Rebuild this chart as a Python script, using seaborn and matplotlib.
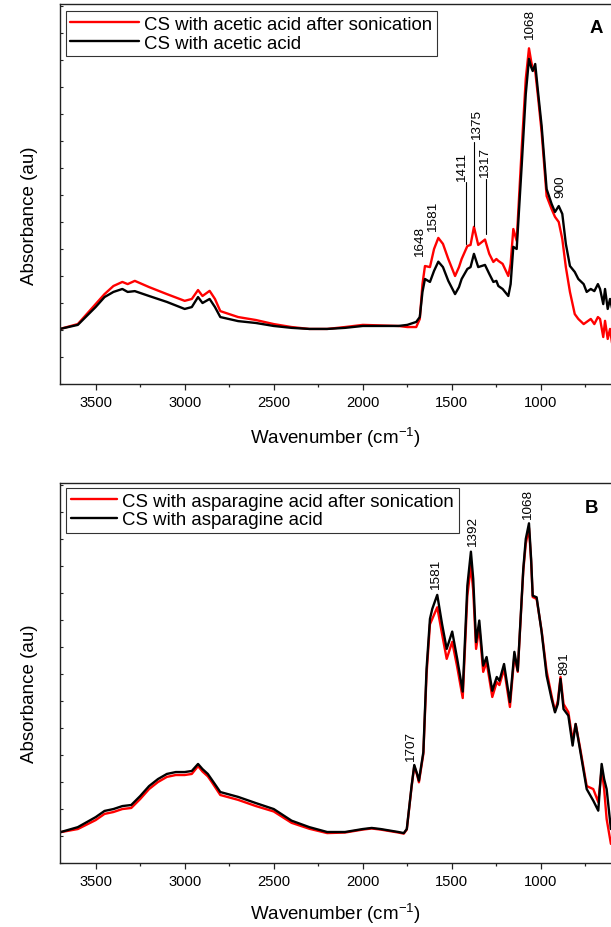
import numpy as np
import matplotlib
matplotlib.use('Agg')
import matplotlib.pyplot as plt
import seaborn as sns
from matplotlib.lines import Line2D
from matplotlib.legend_handler import HandlerLine2D
from matplotlib.ticker import MultipleLocator, FixedLocator

# Panel A: CS with acetic acid (wavenumber, absorbance in a.u.)
wn_a = [3700, 3600, 3500, 3450, 3400, 3350, 3320, 3280, 3200, 3100,
        3000, 2960, 2925, 2900, 2860, 2830, 2800, 2700, 2600, 2500,
        2400, 2300, 2200, 2100, 2000, 1900, 1800, 1750, 1700, 1680,
        1665, 1651, 1623, 1600, 1576, 1550, 1520, 1482, 1460, 1445,
        1413, 1395, 1376, 1352, 1314, 1290, 1267, 1250, 1239, 1215,
        1183, 1170, 1155, 1136, 1108, 1085, 1067, 1055, 1046, 1032,
        1015, 996, 968, 940, 921, 900, 880, 860, 837, 810,
        790, 760, 743, 720, 700, 680, 668, 650, 640, 625,
        612, 600]
a_sonic = [0.205, 0.223, 0.297, 0.334, 0.364, 0.379, 0.371, 0.383, 0.360, 0.334,
           0.309, 0.316, 0.349, 0.327, 0.346, 0.316, 0.271, 0.249, 0.238, 0.223,
           0.212, 0.205, 0.205, 0.212, 0.220, 0.218, 0.216, 0.212, 0.212, 0.242,
           0.371, 0.438, 0.434, 0.501, 0.542, 0.520, 0.464, 0.401, 0.434, 0.464,
           0.512, 0.516, 0.583, 0.516, 0.536, 0.483, 0.453, 0.464, 0.457, 0.446,
           0.401, 0.446, 0.575, 0.531, 0.871, 1.131, 1.244, 1.197, 1.168, 1.160,
           1.057, 0.934, 0.697, 0.649, 0.620, 0.601, 0.538, 0.434, 0.342, 0.260,
           0.242, 0.223, 0.231, 0.242, 0.223, 0.249, 0.242, 0.175, 0.235, 0.168,
           0.205, 0.149]
a_plain = [0.205, 0.220, 0.286, 0.323, 0.342, 0.353, 0.342, 0.345, 0.327, 0.305,
           0.279, 0.286, 0.323, 0.301, 0.316, 0.286, 0.249, 0.234, 0.227, 0.216,
           0.209, 0.205, 0.205, 0.209, 0.216, 0.216, 0.216, 0.220, 0.231, 0.249,
           0.342, 0.390, 0.379, 0.420, 0.454, 0.434, 0.383, 0.334, 0.360, 0.390,
           0.427, 0.434, 0.483, 0.434, 0.442, 0.409, 0.379, 0.383, 0.364, 0.353,
           0.327, 0.371, 0.509, 0.501, 0.809, 1.075, 1.205, 1.175, 1.160, 1.186,
           1.075, 0.957, 0.723, 0.668, 0.638, 0.660, 0.631, 0.520, 0.438, 0.416,
           0.390, 0.371, 0.342, 0.353, 0.345, 0.371, 0.353, 0.297, 0.353, 0.279,
           0.316, 0.279]

# Panel B: CS with asparagine acid
wn_b = [3700, 3600, 3500, 3450, 3400, 3350, 3300, 3250, 3200, 3150,
        3100, 3050, 3000, 2960, 2925, 2900, 2870, 2850, 2800, 2700,
        2600, 2500, 2400, 2300, 2200, 2100, 2000, 1950, 1900, 1800,
        1770, 1753, 1726, 1711, 1695, 1685, 1660, 1642, 1623, 1610,
        1582, 1555, 1529, 1498, 1470, 1439, 1413, 1393, 1380, 1364,
        1346, 1324, 1305, 1273, 1248, 1233, 1207, 1174, 1149, 1130,
        1099, 1085, 1067, 1055, 1046, 1024, 996, 968, 940, 921,
        905, 890, 873, 846, 822, 805, 781, 743, 706, 678,
        659, 645, 631, 607]
b_sonic = [0.115, 0.127, 0.160, 0.183, 0.190, 0.201, 0.205, 0.238, 0.275, 0.301,
           0.320, 0.327, 0.327, 0.331, 0.360, 0.340, 0.322, 0.303, 0.253, 0.235,
           0.212, 0.192, 0.150, 0.128, 0.112, 0.114, 0.125, 0.129, 0.125, 0.114,
           0.110, 0.125, 0.283, 0.360, 0.327, 0.300, 0.405, 0.700, 0.885, 0.905,
           0.948, 0.849, 0.757, 0.820, 0.727, 0.612, 0.991, 1.102, 1.009, 0.794,
           0.875, 0.709, 0.746, 0.616, 0.671, 0.660, 0.720, 0.579, 0.769, 0.709,
           1.083, 1.183, 1.242, 1.119, 0.986, 0.979, 0.861, 0.712, 0.620, 0.564,
           0.601, 0.690, 0.590, 0.560, 0.454, 0.516, 0.431, 0.286, 0.275, 0.227,
           0.349, 0.275, 0.164, 0.072]
b_plain = [0.115, 0.134, 0.171, 0.194, 0.201, 0.212, 0.216, 0.249, 0.286, 0.312,
           0.331, 0.338, 0.338, 0.342, 0.368, 0.349, 0.331, 0.312, 0.264, 0.246,
           0.223, 0.201, 0.158, 0.134, 0.116, 0.116, 0.127, 0.131, 0.127, 0.116,
           0.112, 0.127, 0.287, 0.364, 0.331, 0.306, 0.412, 0.720, 0.905, 0.942,
           0.994, 0.886, 0.794, 0.858, 0.757, 0.636, 1.028, 1.154, 1.053, 0.819,
           0.899, 0.732, 0.764, 0.639, 0.690, 0.676, 0.738, 0.597, 0.783, 0.713,
           1.090, 1.201, 1.259, 1.127, 0.991, 0.985, 0.857, 0.695, 0.609, 0.559,
           0.590, 0.683, 0.571, 0.547, 0.436, 0.516, 0.423, 0.275, 0.232, 0.195,
           0.368, 0.312, 0.275, 0.127]

labels_a = ['CS with acetic acid after sonication', 'CS with acetic acid']
labels_b = ['CS with asparagine acid after sonication', 'CS with asparagine acid']
xticks = [3500, 3000, 2500, 2000, 1500, 1000]

# peak labels: (text, wavenumber, y of text bottom)
peaks_a = [('1068', 1061, 1.279), ('1648', 1679, 0.475), ('1581', 1604, 0.568),
           ('1411', 1445, 0.753), ('1375', 1361, 0.908), ('1317', 1314, 0.768),
           ('900', 893, 0.694)]
# leader lines: (wavenumber, y0, y1)
leaders_a = [(1421, 0.520, 0.750), (1374, 0.586, 0.897), (1310, 0.557, 0.760)]
peaks_b = [('1068', 1071, 1.275), ('1392', 1383, 1.176), ('1581', 1589, 1.016),
           ('1707', 1731, 0.380), ('891', 869, 0.701)]

sns.set_style('ticks')
plt.rcParams['font.family'] = ['Liberation Sans', 'DejaVu Sans']
plt.rcParams['mathtext.fontset'] = 'custom'
plt.rcParams['mathtext.rm'] = 'Liberation Sans'
plt.rcParams['mathtext.default'] = 'regular'
plt.rcParams['text.color'] = 'black'
plt.rcParams['axes.labelcolor'] = 'black'
plt.rcParams['xtick.labelcolor'] = 'black'


class TailLine(HandlerLine2D):
    """legend line drawn only on the right part of the handle box"""
    def __init__(self, frac, **kw):
        super().__init__(**kw)
        self.frac = frac

    def create_artists(self, legend, orig_handle, xdescent, ydescent, width,
                       height, fontsize, trans):
        arts = super().create_artists(legend, orig_handle, xdescent, ydescent,
                                      width, height, fontsize, trans)
        for a in arts:
            x = np.asarray(a.get_xdata(), float)
            if x.size == 2:
                a.set_xdata([x[1] - self.frac * (x[1] - x[0]), x[1]])
        return arts


fig = plt.figure(figsize=(6.11, 9.28), dpi=100)


def panel(rect, wn, y_son, y_pl, labels, peaks, letter, leg_anchor, handlelen, frac, leaders=()):
    ax = fig.add_axes(rect)
    sns.lineplot(x=wn, y=y_son, color='#ff0000', lw=1.7, label=labels[0], ax=ax)
    sns.lineplot(x=wn, y=y_pl, color='black', lw=1.7, label=labels[1], ax=ax)
    ax.set_xlim(3700, 400)
    ax.set_ylim(0, 1.407)
    ax.xaxis.set_major_locator(FixedLocator(xticks))
    ax.xaxis.set_minor_locator(MultipleLocator(250))
    ax.yaxis.set_major_locator(MultipleLocator(0.1))
    ax.set_yticklabels([])
    ax.tick_params(axis='x', which='major', direction='out', length=4.3, width=0.9,
                   labelsize=10.6, pad=3.5, color='#222222')
    ax.tick_params(axis='x', which='minor', direction='out', length=2.4, width=0.9,
                   color='#222222')
    ax.tick_params(axis='y', which='major', direction='in', length=1.8, width=0.8,
                   color='#222222')
    for s in ax.spines.values():
        s.set_linewidth(1.0)
        s.set_color('#222222')
    ax.set_xlabel('Wavenumber (cm$^{-1}$)', fontsize=13.5)
    ax.set_ylabel('Absorbance (au)', fontsize=13.5)
    for txt, x, y in peaks:
        ax.text(x, y, txt, rotation=90, ha='center', va='bottom', fontsize=9.7)
    for x, y0, y1 in leaders:
        ax.plot([x, x], [y0, y1], color='black', lw=0.8)
    ax.text(letter[1], letter[2], letter[0], transform=ax.transAxes, fontsize=13.4,
            fontweight='bold', ha='center', va='center')
    h, l = ax.get_legend_handles_labels()
    leg = ax.legend(h, l, loc='upper left', bbox_to_anchor=leg_anchor, borderaxespad=0,
                    borderpad=0.25, handlelength=handlelen, handletextpad=0.27,
                    labelspacing=0.1, fontsize=13.4, fancybox=False, frameon=True,
                    handler_map={Line2D: TailLine(frac)})
    leg.get_frame().set_edgecolor('black')
    leg.get_frame().set_linewidth(0.8)
    return ax


ax_a = panel([0.0982, 0.5848, 0.962, 0.4095], wn_a, a_sonic, a_plain, labels_a, peaks_a,
             ('A', 0.912, 0.940), (0.0097, 0.982), 3.7, 0.6, leaders_a)
ax_b = panel([0.0982, 0.0686, 0.962, 0.4095], wn_b, b_sonic, b_plain, labels_b, peaks_b,
             ('B', 0.905, 0.937), (0.0102, 0.988), 2.5, 0.88)

ax_a.xaxis.set_label_coords(0.469, -0.107)
ax_b.xaxis.set_label_coords(0.469, -0.099)
ax_a.yaxis.set_label_coords(-0.037, 0.445)
ax_b.yaxis.set_label_coords(-0.037, 0.45)

fig.savefig('out.png', dpi=100)
